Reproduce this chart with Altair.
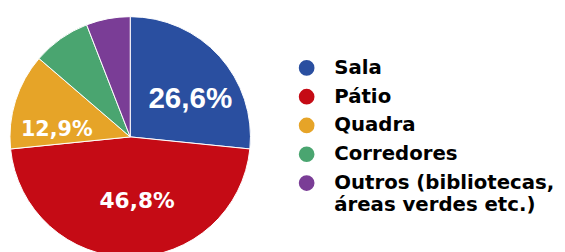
import altair as alt
import pandas as pd

categories = ["Sala", "Pátio", "Quadra", "Corredores", "Outros (bibliotecas,|áreas verdes etc.)"]
values = [26.6, 46.8, 12.9, 7.8, 5.9]
labels = ["26,6%", "46,8%", "12,9%", "", ""]
colors = ["#2a4fa0", "#c50b15", "#e6a428", "#4aa570", "#7a3d96"]

df = pd.DataFrame({"cat": categories, "value": values, "label": labels, "order": list(range(len(categories)))})

cx, cy, R = 124, 129, 122

base = alt.Chart(df).encode(
    theta=alt.Theta("value:Q", stack=True),
    order=alt.Order("order:Q"),
    x=alt.value(cx),
    y=alt.value(cy),
)

pie = base.mark_arc(stroke="white", strokeWidth=1, outerRadius=R).encode(
    color=alt.Color(
        "cat:N",
        sort=categories,
        scale=alt.Scale(domain=categories, range=colors),
        legend=alt.Legend(
            orient="none",
            legendX=293,
            legendY=49,
            title=None,
            symbolType="circle",
            symbolSize=254,
            symbolStrokeWidth=0,
            labelFont="DejaVu Sans",
            labelFontSize=20,
            labelFontWeight="bold",
            labelColor="black",
            labelLimit=0,
            labelOffset=18,
            rowPadding=9.2,
            labelExpr="split(datum.label, '|')",
        ),
    )
)

def lab(name, r, size, font, dx=0, dy=0):
    return base.mark_text(
        radius=r, font=font, fontWeight="bold", fontSize=size, color="white", dx=dx, dy=dy
    ).encode(text=alt.condition(f"datum.label == '{name}'", "label:N", alt.value("")))

chart = alt.layer(
    pie,
    lab("26,6%", 70, 30, "Liberation Sans", 9, 9),
    lab("46,8%", 63, 22, "DejaVu Sans", 7, 2),
    lab("12,9%", 77, 21, "DejaVu Sans", -1, 16),
).properties(width=557, height=244, autosize=alt.AutoSizeParams(type="none"), padding=0).configure_view(stroke=None)

chart.save("out.html", embed_options={"renderer": "svg", "actions": False})
